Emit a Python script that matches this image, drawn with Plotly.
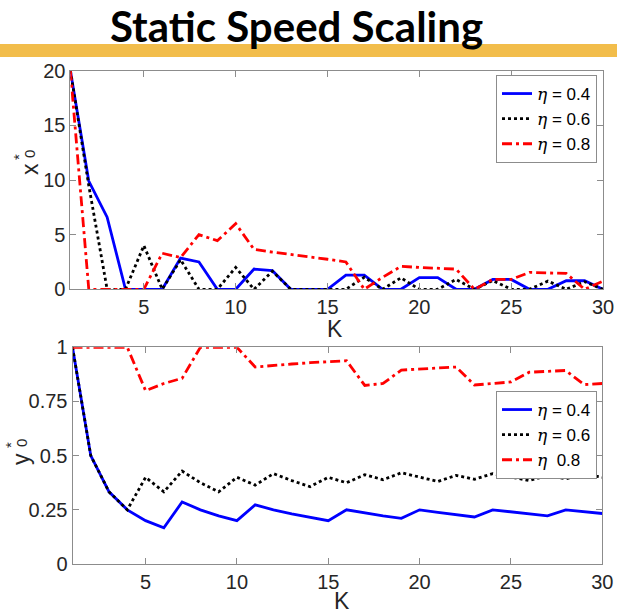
import plotly.graph_objects as go

W, H = 617, 615

# ---------------- data ----------------
K = list(range(1, 31))

# top panel: x0*
x_eta04 = [20, 9.9, 6.6, 0, 0, 0, 2.85, 2.5, 0, 0, 1.85, 1.7, 0, 0, 0,
           1.3, 1.3, 0, 0, 1.07, 1.07, 0, 0, 0.9, 0.9, 0, 0, 0.78, 0.78, 0]
x_eta06 = [20, 9.5, 0, 0, 4.0, 0, 2.7, 0, 0, 2.0, 0, 1.65, 0, 0, 0,
           0, 1.1, 0, 1.05, 0, 0, 0.9, 0, 0.8, 0, 0, 0.75, 0, 0.7, 0]
x_eta08 = [20, 0, 0, 0, 0, 3.3, 2.9, 5.0, 4.45, 6.0, 3.65, 3.4, 3.2, 2.95, 2.75,
           2.5, 0, 1.1, 2.1, 2.0, 1.95, 1.85, 0, 0.9, 0.9, 1.55, 1.5, 1.45, 0, 0.75]

# bottom panel: y0*
y_eta04 = [1, 0.5, 0.333, 0.25, 0.2, 0.167, 0.286, 0.25, 0.222, 0.2, 0.273, 0.25,
           0.231, 0.214, 0.2, 0.25, 0.235, 0.222, 0.211, 0.25, 0.238, 0.227, 0.217,
           0.25, 0.24, 0.231, 0.222, 0.25, 0.241, 0.233]
y_eta06 = [1, 0.5, 0.333, 0.25, 0.4, 0.333, 0.429, 0.375, 0.333, 0.4, 0.364, 0.417,
           0.385, 0.357, 0.4, 0.375, 0.412, 0.389, 0.421, 0.4, 0.381, 0.409, 0.391,
           0.417, 0.4, 0.385, 0.407, 0.393, 0.414, 0.4]
y_eta08 = [1, 1, 1, 1, 0.8, 0.833, 0.857, 1, 1, 1, 0.909, 0.917, 0.923, 0.929,
           0.933, 0.938, 0.824, 0.833, 0.895, 0.9, 0.905, 0.909, 0.826, 0.833,
           0.84, 0.885, 0.889, 0.893, 0.828, 0.833]

ETA = "<span style=\"font-family:'DejaVu Serif'\"><i>η</i></span>"
top_names = [ETA + " = 0.4", ETA + " = 0.6", ETA + " = 0.8"]
bottom_names = [ETA + " = 0.4", ETA + " = 0.6", ETA + "  0.8"]
x_ticks = [5, 10, 15, 20, 25, 30]
top_y_ticks = [0, 5, 10, 15, 20]
bottom_y_ticks = [0, 0.25, 0.5, 0.75, 1]
bottom_y_ticktext = ["0", "0.25", "0.5", "0.75", "1"]

# ---------------- styles ----------------
colors = ["#0000FF", "#000000", "#FF0000"]
dashes = ["solid", "3px,3px", "10px,4px,3px,4px"]
widths = [2.8, 2.8, 2.8]
axis_col = "#8c8c8c"
tick_font = dict(family="Liberation Sans, Arial, sans-serif", size=20, color="#262626")
leg_font = dict(family="Liberation Sans, Arial, sans-serif", size=17, color="#000000")

fig = go.Figure()

for series, name, c, d, w in zip([x_eta04, x_eta06, x_eta08], top_names, colors, dashes, widths):
    fig.add_trace(go.Scatter(x=K, y=series, mode="lines", name=name,
                             line=dict(color=c, dash=d, width=w), cliponaxis=False,
                             xaxis="x", yaxis="y", legend="legend"))

for series, name, c, d, w in zip([y_eta04, y_eta06, y_eta08], bottom_names, colors, dashes, widths):
    fig.add_trace(go.Scatter(x=K, y=series, mode="lines", name=name,
                             line=dict(color=c, dash=d, width=w), cliponaxis=False,
                             xaxis="x2", yaxis="y2", legend="legend2"))

common_axis = dict(showline=True, linecolor=axis_col, linewidth=1, mirror="ticks",
                   ticks="inside", ticklen=6, tickcolor=axis_col, tickwidth=1,
                   showgrid=False, zeroline=False, tickfont=tick_font)

fig.update_layout(
    width=W, height=H, autosize=False,
    margin=dict(l=0, r=0, t=0, b=0, autoexpand=False),
    paper_bgcolor="white", plot_bgcolor="white",
    xaxis=dict(domain=[70.4 / W, 603 / W], range=[1, 30], tickvals=x_ticks,
               anchor="y", **common_axis),
    yaxis=dict(domain=[1 - 289.3 / H, 1 - 70.7 / H], range=[0, 20],
               tickvals=top_y_ticks, anchor="x", **common_axis),
    xaxis2=dict(domain=[72.5 / W, 602.3 / W], range=[1, 30], tickvals=x_ticks,
                anchor="y2", **common_axis),
    yaxis2=dict(domain=[1 - 564 / H, 1 - 347.3 / H], range=[0, 1],
                tickvals=bottom_y_ticks, ticktext=bottom_y_ticktext,
                anchor="x2", **common_axis),
    legend=dict(x=597 / W, xanchor="right", y=1 - 75 / H, yanchor="top",
                bordercolor=axis_col, borderwidth=1, bgcolor="white",
                font=leg_font, tracegroupgap=0, itemwidth=30),
    legend2=dict(x=597 / W, xanchor="right", y=1 - 391 / H, yanchor="top",
                 bordercolor=axis_col, borderwidth=1, bgcolor="white",
                 font=leg_font, tracegroupgap=0, itemwidth=30),
    showlegend=True,
)

# orange banner bar
fig.add_shape(type="rect", xref="paper", yref="paper", x0=0, x1=1,
              y0=1 - 57 / H, y1=1 - 44 / H, fillcolor="#F2BD4B", line_width=0,
              layer="above")

# title
fig.add_annotation(text="<b>Static Speed Scaling</b>", xref="paper", yref="paper",
                   x=296.5 / W, y=1, xanchor="center", yanchor="top",
                   showarrow=False, borderpad=0,
                   font=dict(family="Lato, 'Open Sans', sans-serif", size=42, color="#000000"))

lab_font = dict(family="Liberation Sans, Arial, sans-serif", size=23, color="#262626")
small_font = dict(family="Liberation Sans, Arial, sans-serif", size=15, color="#262626")

def ann(text, xp, yp, font, angle=0):
    fig.add_annotation(text=text, xref="paper", yref="paper", x=xp / W, y=1 - yp / H,
                       xanchor="center", yanchor="middle", showarrow=False,
                       font=font, textangle=angle)

# x-axis titles
ann("K", 335, 329, lab_font)
ann("K", 342, 601, lab_font)

# y-axis titles (stacked super/subscript)
ann("x", 30, 169, lab_font, -90)
ann("*", 18, 157, small_font, -90)
ann("0", 29, 154, small_font, -90)

ann("y", 21, 459, lab_font, -90)
ann("*", 10, 445, small_font, -90)
ann("0", 21, 443, small_font, -90)

fig.write_html("out.html")
